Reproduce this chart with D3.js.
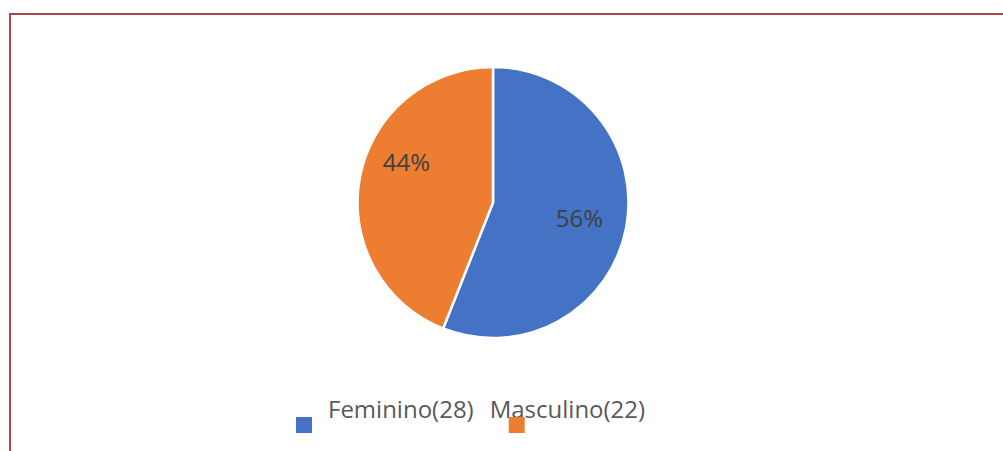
<!DOCTYPE html>
<html>
<head>
<meta charset="utf-8">
<script src="https://cdn.jsdelivr.net/npm/d3@7"></script>
<style>
  body { margin: 0; background: #fff; }
  svg { display: block; }
  text { font-family: "Open Sans", "Noto Sans", sans-serif; }
</style>
</head>
<body>
<div class="chart"></div>
<script>
// data
const categories = ["Feminino", "Masculino"];
const counts = [28, 22];
const colors = ["#4472C4", "#ED7D31"];

let outWidth = 1003, outHeight = 451;
let cx = 493, cy = 202.5, radius = 135.5;

const svg = d3.select('.chart').append('svg')
	.attr("width", outWidth)
	.attr("height", outHeight);

// frame
svg.append("path")
	.attr("d", `M10,${outHeight + 5} L10,14 L${outWidth + 5},14`)
	.attr("fill", "none")
	.attr("stroke", "#ac4548")
	.attr("stroke-width", 2);

const total = d3.sum(counts);
const data = categories.map((c, i) => ({name: c, value: counts[i], color: colors[i]}));

const pie = d3.pie()
	.value(d => d.value)
	.sort(null);
const arc = d3.arc()
	.innerRadius(0)
	.outerRadius(radius);
const labelArc = d3.arc()
	.innerRadius(radius * 0.65)
	.outerRadius(radius * 0.65);

const g = svg.append("g")
	.attr("transform", `translate(${cx}, ${cy})`);

const arcs = pie(data);

g.selectAll("path")
	.data(arcs)
	.enter()
	.append("path")
	.attr("d", arc)
	.attr("fill", d => d.data.color)
	.attr("stroke", "#fff")
	.attr("stroke-width", 2.5)
	.attr("stroke-linejoin", "round");

// labels (Excel nudges the smaller label upward a bit)
const labelDy = [0, -23];
g.selectAll("text")
	.data(arcs)
	.enter()
	.append("text")
	.attr("transform", d => {
		const c = labelArc.centroid(d);
		return `translate(${c[0]}, ${c[1] + labelDy[d.index]})`;
	})
	.attr("text-anchor", "middle")
	.attr("dy", "0.35em")
	.attr("font-size", 24)
	.attr("fill", "#404040")
	.text(d => Math.round(d.value / total * 100) + "%");

// legend
const legendText = data.map(d => `${d.name}(${d.value})`);
const swatchDx = [-32, 19];
const legend = svg.append("g")
	.attr("transform", "translate(328, 418)");

let xPos = 0;
legendText.forEach((t, i) => {
	const txt = legend.append("text")
		.attr("x", xPos)
		.attr("y", 0)
		.attr("font-size", 24)
		.attr("fill", "#595959")
		.text(t);
	legend.append("rect")
		.attr("x", xPos + swatchDx[i])
		.attr("y", -1)
		.attr("width", 16)
		.attr("height", 16)
		.attr("fill", colors[i]);
	xPos += txt.node().getComputedTextLength() + 16;
});
</script>
</body>
</html>
